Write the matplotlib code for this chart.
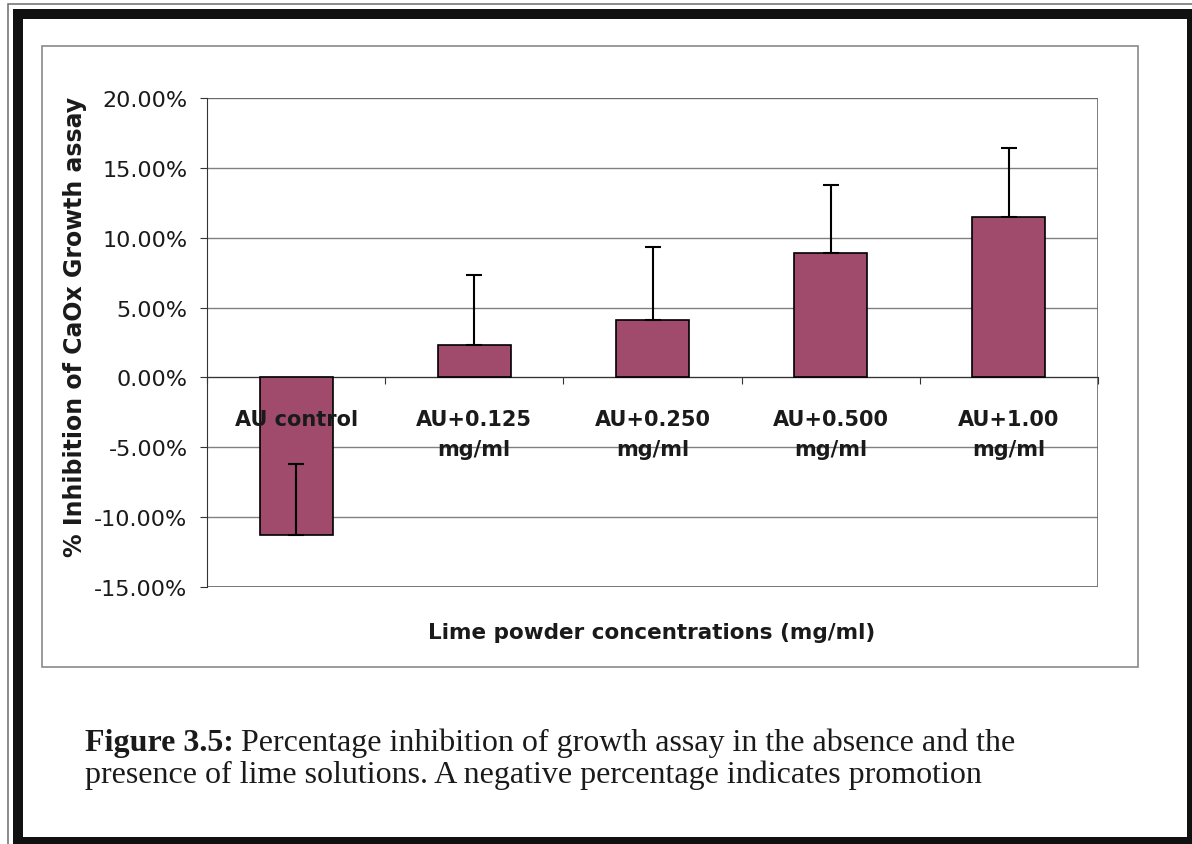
import matplotlib
matplotlib.use("Agg")
import matplotlib.pyplot as plt
from matplotlib.patches import Rectangle
from matplotlib.ticker import PercentFormatter

# --- DATA ---
categories: list[str] = ["AU control", "AU+0.125\nmg/ml", "AU+0.250\nmg/ml",
                         "AU+0.500\nmg/ml", "AU+1.00\nmg/ml"]
inhibition: list[float] = [-11.3, 2.35, 4.1, 8.9, 11.5]   # % inhibition
err_plus: list[float] = [5.1, 5.0, 5.2, 4.9, 4.95]        # upper error only
y_ticks: list[int] = [-15, -10, -5, 0, 5, 10, 15, 20]

plt.rcParams['axes.unicode_minus'] = False
plt.rcParams['font.family'] = ['DejaVu Sans']

W, H = 1192, 845
fig = plt.figure(figsize=(W / 100, H / 100), dpi=100)


def px_box(x0: float, y0: float, x1: float, y1: float) -> list[float]:
    """Pixel box (top-left origin) -> figure fraction [left, bottom, w, h]."""
    return [x0 / W, 1 - y1 / H, (x1 - x0) / W, (y1 - y0) / H]


# --- FRAMES ---
fig.add_artist(Rectangle((8 / W, -0.02), 1.1, 1 - 5 / H + 0.02, transform=fig.transFigure,
                         fill=False, edgecolor='#777777', lw=1.2))
fig.add_artist(Rectangle((18 / W, 1 - 843 / H), (1192 - 18) / W, (843 - 15) / H,
                         transform=fig.transFigure, fill=False, edgecolor='#111111', lw=7.2))
fig.add_artist(Rectangle((42 / W, 1 - 668 / H), 1096 / W, 621 / H, transform=fig.transFigure,
                         fill=False, edgecolor='#8a8a8a', lw=1.2))

# --- PLOT ---
ax = fig.add_axes(px_box(207, 99, 1098, 588))
x = list(range(len(categories)))
ax.bar(x, inhibition, width=0.41, color='#a04a6c', edgecolor='black', linewidth=1.2, zorder=3)
ax.errorbar(x, inhibition, yerr=[[0] * len(x), err_plus], fmt='none', ecolor='black',
            elinewidth=1.5, capsize=6, capthick=1.5, zorder=4)

ax.set_xlim(-0.5, 4.5)
ax.set_ylim(-15, 20)
ax.set_yticks(y_ticks)
ax.yaxis.set_major_formatter(PercentFormatter(xmax=100, decimals=2))
ax.yaxis.grid(True, color='#808080', lw=1.0)
ax.set_axisbelow(True)

ax.spines['bottom'].set_position(('data', 0))
ax.spines['bottom'].set_color('#333333')
ax.spines['left'].set_color('#333333')
ax.spines['top'].set_visible(False)
ax.spines['right'].set_visible(False)
ax.add_patch(Rectangle((0, 0), 1, 1, transform=ax.transAxes, fill=False,
                       edgecolor='#666666', lw=1.2, zorder=2))

# tick marks sit between categories; the names are drawn on top of the bars
ax.set_xticks([i - 0.5 for i in range(len(x) + 1)])
ax.set_xticklabels([])
ax.tick_params(axis='x', which='major', direction='out', length=5, color='#333333')
for xi, name in zip(x, categories):
    ax.annotate(name, xy=(xi, 0), xytext=(0, -22.5), textcoords='offset points',
                ha='center', va='top', fontsize=15, fontweight='bold',
                linespacing=1.65, color='#1a1a1a', zorder=6)
ax.tick_params(axis='y', direction='out', length=5, pad=9, labelsize=16,
               color='#333333', labelcolor='#1a1a1a')

fig.text(75 / W, 1 - 327 / H, "% Inhibition of CaOx Growth assay", rotation=90,
         ha='center', va='center', fontsize=17, fontweight='bold', color='#1a1a1a')
fig.text(652 / W, 1 - 633 / H, "Lime powder concentrations (mg/ml)",
         ha='center', va='center', fontsize=15.5, fontweight='bold', color='#1a1a1a')

# --- CAPTION ---
cap = fig.text(85 / W, 1 - 751 / H, "Figure 3.5:", family='Liberation Serif',
               fontweight='bold', fontsize=23, va='baseline', color='#1a1a1a')
ax.annotate("Percentage inhibition of growth assay in the absence and the",
            xy=(1, 0), xycoords=cap, xytext=(5, 0), textcoords='offset points',
            va='bottom', ha='left', family='Liberation Serif', fontsize=23,
            color='#1a1a1a', annotation_clip=False)
fig.text(85 / W, 1 - 783 / H,
         "presence of lime solutions. A negative percentage indicates promotion",
         family='Liberation Serif', fontsize=23, va='baseline', color='#1a1a1a')

fig.savefig("out.png", dpi=100)
